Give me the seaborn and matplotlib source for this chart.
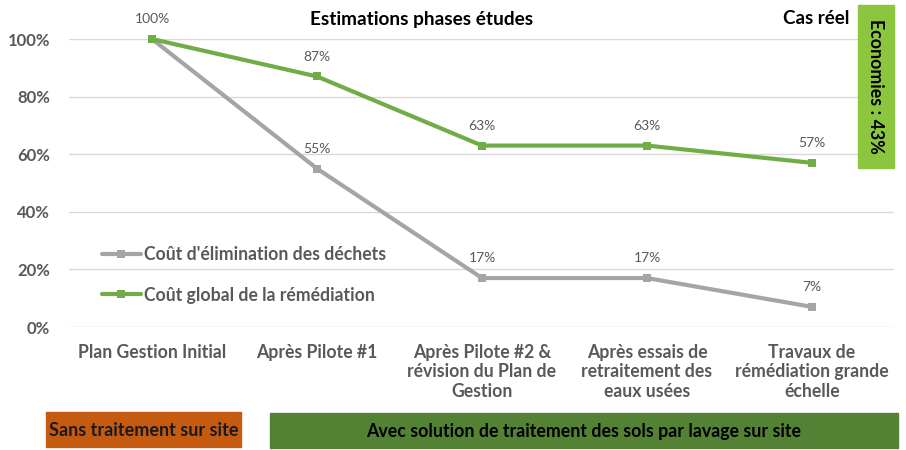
import pandas as pd
import matplotlib.pyplot as plt
import seaborn as sns
from matplotlib.patches import Rectangle

# data
categories = [
    "Plan Gestion Initial",
    "Après Pilote #1",
    "Après Pilote #2 &\nrévision du Plan de\nGestion",
    "Après essais de\nretraitement des\neaux usées",
    "Travaux de\nrémédiation grande\néchelle",
]
dechets = [1.00, 0.55, 0.17, 0.17, 0.07]
global_cost = [1.00, 0.87, 0.63, 0.63, 0.57]
series_names = ["Coût d'élimination des déchets", "Coût global de la rémédiation"]
y_ticks = [0, 0.2, 0.4, 0.6, 0.8, 1.0]

GRAY = "#A5A5A5"
GREEN = "#70AD47"
TXT = "#595959"

sns.set_style("white")
plt.rcParams["font.family"] = ["Lato", "DejaVu Sans"]

df = pd.DataFrame({
    "pos": list(range(len(categories))) * 2,
    "val": dechets + global_cost,
    "serie": [series_names[0]] * len(categories) + [series_names[1]] * len(categories),
})

fig = plt.figure(figsize=(9.06, 4.5), dpi=100)
ax = fig.add_axes([0.0767, 0.2733, 0.9106, 0.64])

sns.lineplot(data=df, x="pos", y="val", hue="serie", palette=[GRAY, GREEN],
             marker="s", markersize=6, markeredgewidth=0, linewidth=3,
             ax=ax, clip_on=False, zorder=3)

ax.set_xlim(-0.5, len(categories) - 0.5)
ax.set_ylim(0, 1)
ax.set_yticks(y_ticks)
ax.set_yticklabels([f"{int(round(t*100))}%" for t in y_ticks],
                   fontsize=12, fontweight="bold", color=TXT)
ax.set_xticks(range(len(categories)))
ax.set_xticklabels(categories, fontsize=12.7, fontweight="bold", color=TXT,
                   linespacing=1.2, va="top")
ax.tick_params(axis="both", length=0)
ax.tick_params(axis="x", pad=12)
ax.tick_params(axis="y", pad=14)
ax.set_xlabel("")
ax.set_ylabel("")
ax.grid(axis="y", color="#D9D9D9", linewidth=1)
ax.set_axisbelow(True)
for s in ax.spines.values():
    s.set_visible(False)

# data labels
for vals in (dechets, global_cost):
    for i, v in enumerate(vals):
        if i == 0 and vals is dechets:
            continue
        ax.annotate(f"{int(round(v*100))}%", (i, v), xytext=(0, 10),
                    textcoords="offset points", ha="center", va="bottom",
                    fontsize=10, color=TXT)

leg = ax.legend(loc="center left", bbox_to_anchor=(0.02, 0.182), frameon=False,
                fontsize=12.7, handlelength=2.2, handletextpad=0.2, labelspacing=1.35)
for t in leg.get_texts():
    t.set_color(TXT)
    t.set_fontweight("bold")

fig.text(422 / 906, 1 - 19 / 450, "Estimations phases études", ha="center",
         va="center", fontsize=13.7, fontweight="bold", color="black")
fig.text(816 / 906, 1 - 18 / 450, "Cas réel", ha="center", va="center",
         fontsize=13.5, fontweight="bold", color="black")

# economies box
fig.patches.append(Rectangle((858 / 906, 1 - 168 / 450), 36 / 906, 163 / 450,
                             transform=fig.transFigure, color="#8CC63F", zorder=5))
fig.text(876 / 906, 1 - 86 / 450, "Economies : 43%", rotation=-90, ha="center",
         va="center", fontsize=12.8, fontweight="bold", color="black", zorder=6)

# bottom boxes
fig.patches.append(Rectangle((46 / 906, 1 - 447 / 450), 195 / 906, 35 / 450,
                             transform=fig.transFigure, color="#C55A11"))
fig.text(144 / 906, 1 - 430 / 450, "Sans traitement sur site", ha="center",
         va="center", fontsize=13, fontweight="bold", color="#1a1a1a")
fig.patches.append(Rectangle((270 / 906, 1 - 448 / 450), 628 / 906, 35 / 450,
                             transform=fig.transFigure, color="#548235"))
fig.text(584 / 906, 1 - 431 / 450,
         "Avec solution de traitement des sols par lavage sur site",
         ha="center", va="center", fontsize=12.8, fontweight="bold", color="black")

fig.savefig("out.png", dpi=100, facecolor="white")
